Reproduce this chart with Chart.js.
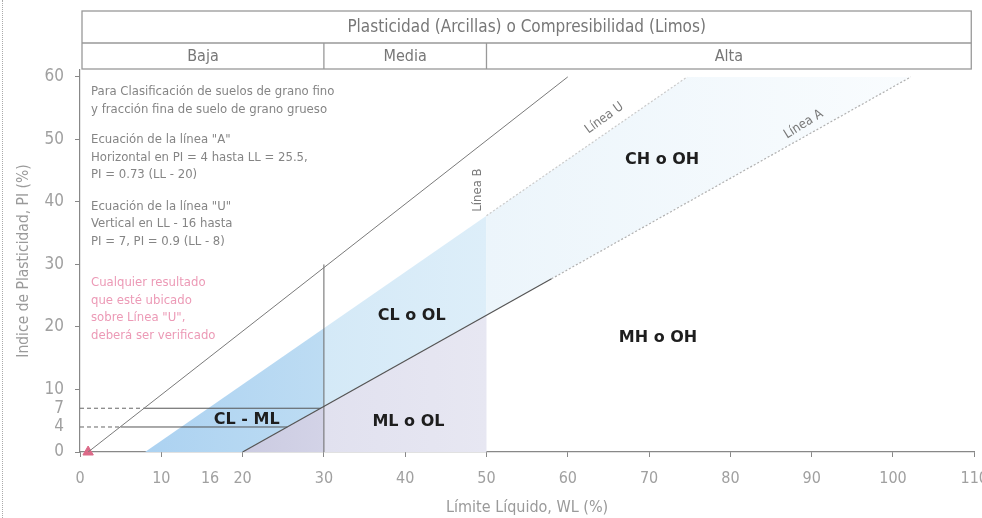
<!DOCTYPE html>
<html>
<head>
<meta charset="utf-8">
<script src="https://cdn.jsdelivr.net/npm/chart.js@4.4.1/dist/chart.umd.min.js"></script>
<style>
    html, body { margin: 0; padding: 0; background: #fff; }
    #wrap { width: 982px; height: 518px; overflow: hidden; position: relative; }
    #edge { position: absolute; left: 2px; top: 0; bottom: 0; border-left: 1px dotted #aaa; }
    canvas { display: block; }
</style>
</head>
<body>
<div id="wrap"><div id="edge"></div><canvas id="chart" width="1000" height="518"></canvas></div>
<script>
// tick labels
const xTicks = [0, 10, 16, 20, 30, 40, 50, 60, 70, 80, 90, 100, 110];
const yTicks = [0, 4, 7, 10, 20, 30, 40, 50, 60];

// lines, as (LL, PI) points
const upperLine = [{x: 1, y: 0}, {x: 60, y: 60}];
const lineA = [{x: 20, y: 0}, {x: 58, y: 27.7}];
const lineAFaint = [{x: 58, y: 27.7}, {x: 102.2, y: 60}];
const lineUFaint = [{x: 50, y: 37.8}, {x: 74.7, y: 60}];
const line30 = [{x: 30, y: 0}, {x: 30, y: 30}];
const pi7Dashed = [{x: 0, y: 7}, {x: 8, y: 7}];
const pi7Solid = [{x: 8, y: 7}, {x: 29.6, y: 7}];
const pi4Dashed = [{x: 0, y: 4}, {x: 5, y: 4}];
const pi4Solid = [{x: 5, y: 4}, {x: 25.5, y: 4}];
const marker = [{x: 1, y: 0}];

// zones
const clLow = [{x: 8, y: 0}, {x: 20, y: 0}, {x: 30, y: 7.3}, {x: 30, y: 19.8}];
const clHigh = [{x: 30, y: 7.3}, {x: 50, y: 21.9}, {x: 50, y: 37.8}, {x: 30, y: 19.8}];
const mlLow = [{x: 20, y: 0}, {x: 30, y: 0}, {x: 30, y: 7.3}];
const mlHigh = [{x: 30, y: 0}, {x: 50, y: 0}, {x: 50, y: 21.9}, {x: 30, y: 7.3}];
const chZone = [{x: 50, y: 21.9}, {x: 102.2, y: 60}, {x: 74.7, y: 60}, {x: 50, y: 37.8}];

const zoneNames = ['CL - ML', 'CL o OL', 'ML o OL', 'CH o OH', 'MH o OH'];
const zoneSpots = [[20.5, 5.1], [40.8, 21.8], [40.4, 4.8], [71.6, 46.7], [71.1, 18.2]];

const NARROW = "'Liberation Sans Narrow', 'DejaVu Sans Condensed', 'Roboto', sans-serif";

const polygonFill = {
    id: 'polygonFill',
    beforeDatasetsDraw(chart) {
        const ctx = chart.ctx;
        const xs = chart.scales.x;
        chart.data.datasets.forEach((ds, i) => {
            if(!ds.zone) return;
            const pts = chart.getDatasetMeta(i).data;
            const g = ctx.createLinearGradient(xs.getPixelForValue(ds.zone[0]), 0, xs.getPixelForValue(ds.zone[2]), 0);
            g.addColorStop(0, ds.zone[1]);
            g.addColorStop(1, ds.zone[3]);
            ctx.save();
            ctx.beginPath();
            pts.forEach((p, j) => j ? ctx.lineTo(p.x, p.y) : ctx.moveTo(p.x, p.y));
            ctx.closePath();
            ctx.fillStyle = g;
            ctx.fill();
            ctx.restore();
        });
    }
};

const annotations = {
    id: 'annotations',
    afterDatasetsDraw(chart) {
        const ctx = chart.ctx;
        const xs = chart.scales.x, ys = chart.scales.y;
        const area = chart.chartArea;
        const px = v => xs.getPixelForValue(v);
        const py = v => ys.getPixelForValue(v);
        ctx.save();

        // header table
        const top = area.top - 59, mid = area.top - 27, bot = area.top - 1;
        const left = area.left + 2, right = area.right - 3;
        ctx.strokeStyle = '#999';
        ctx.lineWidth = 1.3;
        ctx.strokeRect(left, top, right - left, bot - top);
        ctx.beginPath();
        ctx.moveTo(left, mid); ctx.lineTo(right, mid);
        ctx.moveTo(px(30), mid); ctx.lineTo(px(30), bot);
        ctx.moveTo(px(50), mid); ctx.lineTo(px(50), bot);
        ctx.stroke();
        ctx.fillStyle = '#777';
        ctx.textAlign = 'center';
        ctx.textBaseline = 'middle';
        ctx.font = '17px ' + NARROW;
        ctx.fillText('Plasticidad (Arcillas) o Compresibilidad (Limos)', (left + right) / 2, (top + mid) / 2 + 1);
        ctx.font = '16px ' + NARROW;
        ctx.fillText('Baja', (left + px(30)) / 2, (mid + bot) / 2 + 1);
        ctx.fillText('Media', (px(30) + px(50)) / 2, (mid + bot) / 2 + 1);
        ctx.fillText('Alta', (px(50) + right) / 2, (mid + bot) / 2 + 1);

        // zone names
        ctx.fillStyle = '#1e1e1e';
        ctx.font = "bold 16px 'DejaVu Sans', sans-serif";
        zoneNames.forEach((t, i) => ctx.fillText(t, px(zoneSpots[i][0]), py(zoneSpots[i][1])));

        // line names
        ctx.fillStyle = '#7a7a7a';
        ctx.font = '13px ' + NARROW;
        const rotText = (t, x, y, deg) => {
            ctx.save();
            ctx.translate(px(x), py(y));
            ctx.rotate(deg * Math.PI / 180);
            ctx.fillText(t, 0, 0);
            ctx.restore();
        };
        rotText('Línea U', 64.5, 53.4, -36);
        rotText('Línea A', 89, 52.4, -32);
        rotText('Línea B', 48.9, 41.9, -90);

        // notes
        ctx.textAlign = 'left';
        ctx.font = '13px ' + NARROW;
        const notes = [
            ['Para Clasificación de suelos de grano fino', 92],
            ['y fracción fina de suelo de grano grueso', 110],
            ['Ecuación de la línea "A"', 140],
            ['Horizontal en PI = 4 hasta LL = 25.5,', 157.5],
            ['PI = 0.73 (LL - 20)', 175],
            ['Ecuación de la línea "U"', 207],
            ['Vertical en LL - 16 hasta', 224],
            ['PI = 7, PI = 0.9 (LL - 8)', 241.5]
        ];
        ctx.fillStyle = '#858585';
        notes.forEach(n => ctx.fillText(n[0], area.left + 11, n[1]));
        const warn = [
            ['Cualquier resultado', 283],
            ['que esté ubicado', 300.5],
            ['sobre Línea "U",', 318],
            ['deberá ser verificado', 336]
        ];
        ctx.fillStyle = '#ec9ab6';
        warn.forEach(n => ctx.fillText(n[0], area.left + 11, n[1]));
        ctx.restore();
    }
};

function lineSet(data, color, width, dash) {
    return {
        data: data,
        showLine: true,
        borderColor: color,
        borderWidth: width,
        borderDash: dash || [],
        pointRadius: 0,
        fill: false
    };
}

function zoneSet(data, x0, c0, x1, c1) {
    return {data: data, showLine: false, pointRadius: 0, zone: [x0, c0, x1, c1]};
}

new Chart(document.getElementById('chart'), {
    type: 'scatter',
    data: {
        datasets: [
            zoneSet(clLow, 8, '#acd2f1', 30, '#bddcf3'),
            zoneSet(clHigh, 30, '#d4e9f7', 50, '#ddeef9'),
            zoneSet(mlLow, 20, '#cbcbe1', 30, '#d3d3e7'),
            zoneSet(mlHigh, 30, '#e1e1ef', 50, '#e7e7f2'),
            zoneSet(chZone, 50, '#ecf5fb', 102, '#f9fcfe'),
            lineSet(upperLine, '#7a7a7a', 1),
            lineSet(lineA, '#555', 1.2),
            lineSet(lineAFaint, '#b0b0b0', 1.2, [2, 2]),
            lineSet(lineUFaint, '#cacaca', 1.2, [2, 2]),
            lineSet(line30, '#666', 1),
            lineSet(pi7Dashed, '#666', 1, [4, 3]),
            lineSet(pi7Solid, '#555', 1),
            lineSet(pi4Dashed, '#666', 1, [4, 3]),
            lineSet(pi4Solid, '#555', 1),
            {
                data: marker,
                pointStyle: 'triangle',
                pointRadius: 6,
                backgroundColor: '#dc6a88',
                borderColor: '#dc6a88',
                clip: false
            }
        ]
    },
    options: {
        responsive: false,
        animation: false,
        events: [],
        layout: {padding: {top: 70, right: 24, left: 0, bottom: 0}},
        plugins: {
            legend: {display: false},
            tooltip: {enabled: false}
        },
        scales: {
            x: {
                type: 'linear',
                min: 0,
                max: 110,
                afterBuildTicks: axis => { axis.ticks = xTicks.map(v => ({value: v})); },
                afterFit: axis => { axis.height = 66; },
                ticks: {
                    color: '#a0a0a0',
                    padding: 12,
                    maxRotation: 0,
                    autoSkip: false,
                    font: {family: NARROW, size: 16}
                },
                grid: {
                    drawOnChartArea: false,
                    tickLength: 5,
                    color: c => (c.tick && c.tick.value === 16) ? 'rgba(0,0,0,0)' : '#888'
                },
                border: {color: '#888', width: 1.2},
                title: {
                    display: true,
                    text: 'Límite Líquido, WL (%)',
                    color: '#9a9a9a',
                    font: {family: NARROW, size: 16},
                    padding: {top: 0, bottom: 1}
                }
            },
            y: {
                type: 'linear',
                min: 0,
                max: 61.1,
                afterBuildTicks: axis => { axis.ticks = yTicks.map(v => ({value: v})); },
                afterFit: axis => { axis.width = 80; },
                ticks: {
                    color: '#a0a0a0',
                    padding: 11,
                    autoSkip: false,
                    font: {family: NARROW, size: 17}
                },
                grid: {
                    drawOnChartArea: false,
                    tickLength: 5,
                    color: c => (c.tick && (c.tick.value === 4 || c.tick.value === 7)) ? 'rgba(0,0,0,0)' : '#888'
                },
                border: {color: '#888', width: 1.2},
                title: {
                    display: true,
                    text: 'Indice de Plasticidad, PI (%)',
                    color: '#9a9a9a',
                    font: {family: NARROW, size: 15.5},
                    padding: {top: 15, bottom: 0}
                }
            }
        }
    },
    plugins: [polygonFill, annotations]
});
</script>
</body>
</html>
